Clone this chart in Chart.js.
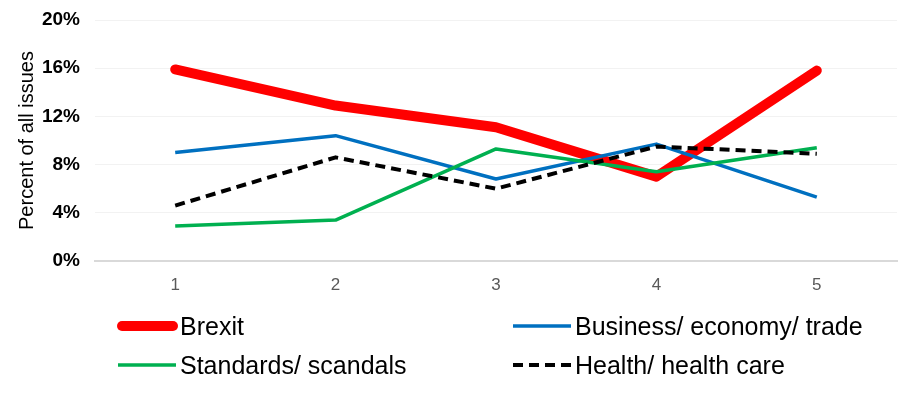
<!DOCTYPE html>
<html><head><meta charset="utf-8">
<script src="https://cdn.jsdelivr.net/npm/chart.js@4"></script>
<style>
html,body{margin:0;padding:0;background:#fff;}
#wrap{position:relative;width:904px;height:394px;}
#c{position:absolute;left:0;top:0;}
#legend{position:absolute;left:0;top:0;width:904px;height:394px;pointer-events:none;font-family:"Liberation Sans",Arial,sans-serif;font-size:25px;color:#000;}
.item{position:absolute;height:30px;display:flex;align-items:center;white-space:nowrap;}
.item svg{display:block;margin-right:2px;}
</style></head><body>
<div id="wrap"><canvas id="c" width="904" height="394" style="width:904px;height:394px"></canvas><div id="legend"></div></div>
<script>
const categories = ['1', '2', '3', '4', '5'];
const brexit = [15.9, 12.9, 11.1, 7.0, 15.8];
const business = [9.0, 10.4, 6.8, 9.7, 5.3];
const standards = [2.9, 3.4, 9.3, 7.4, 9.4];
const health = [4.6, 8.6, 6.0, 9.5, 8.9];
const yTicks = [0, 4, 8, 12, 16, 20];
const seriesNames = ['Brexit', 'Business/ economy/ trade', 'Standards/ scandals', 'Health/ health care'];
const yTitle = 'Percent of all issues';

const font = '"Liberation Sans", Arial, sans-serif';

const styles = [
  {color: '#ff0000', width: 10, dash: [], order: 4},
  {color: '#0070c0', width: 3.5, dash: [], order: 3},
  {color: '#00b050', width: 3.5, dash: [], order: 2},
  {color: '#000000', width: 4, dash: [10, 6], order: 1}
];
const seriesData = [brexit, business, standards, health];

const datasets = seriesData.map((d, i) => ({
  label: seriesNames[i],
  data: d,
  borderColor: styles[i].color,
  backgroundColor: styles[i].color,
  borderWidth: styles[i].width,
  borderDash: styles[i].dash,
  borderCapStyle: i === 0 ? 'round' : 'butt',
  borderJoinStyle: 'round',
  pointRadius: 0,
  pointHoverRadius: 0,
  tension: 0,
  fill: false,
  order: styles[i].order
}));

new Chart(document.getElementById('c'), {
  type: 'line',
  data: {labels: categories, datasets},
  options: {
    responsive: false,
    animation: false,
    devicePixelRatio: 1,
    layout: {padding: {left: 0, right: 7, top: 20, bottom: 93}},
    plugins: {legend: {display: false}, tooltip: {enabled: false}},
    scales: {
      x: {
        offset: true,
        grid: {display: false, drawTicks: false},
        border: {display: true, color: '#d9d9d9', width: 2},
        ticks: {color: '#595959', font: {family: font, size: 17}, padding: 14},
        afterFit: s => { s.height = 40; s.paddingLeft = 0; s.paddingRight = 0; }
      },
      y: {
        min: yTicks[0],
        max: yTicks[yTicks.length - 1],
        afterBuildTicks: s => { s.ticks = yTicks.map(v => ({value: v})); },
        grid: {color: 'rgba(0,0,0,0.05)', drawTicks: false, lineWidth: 1},
        border: {display: false},
        ticks: {color: '#000', font: {family: font, size: 19, weight: 'bold'}, padding: 15,
          callback: v => v + '%'},
        title: {display: true, text: yTitle, color: '#000', font: {family: font, size: 20}, padding: {top: 15, bottom: 0}},
        afterFit: s => { s.width = 95; s.paddingTop = 0; s.paddingBottom = 0; }
      }
    }
  }
});

// legend (HTML)
const legendPos = [[117, 326], [512, 326], [117, 365], [512, 365]];
const leg = document.getElementById('legend');
seriesNames.forEach((name, i) => {
  const st = styles[i];
  const div = document.createElement('div');
  div.className = 'item';
  div.style.left = legendPos[i][0] + 'px';
  div.style.top = (legendPos[i][1] - 15) + 'px';
  const cap = i === 0 ? 'round' : 'butt';
  const x1 = i === 0 ? 5 : 1, x2 = i === 0 ? 56 : 59;
  const dash = st.dash.length ? `stroke-dasharray="${st.dash.join(',')}"` : '';
  div.innerHTML = `<svg width="61" height="14"><line x1="${x1}" y1="7" x2="${x2}" y2="7" stroke="${st.color}" stroke-width="${st.width}" stroke-linecap="${cap}" ${dash}/></svg><span>${name}</span>`;
  leg.appendChild(div);
});
</script>
</body></html>
